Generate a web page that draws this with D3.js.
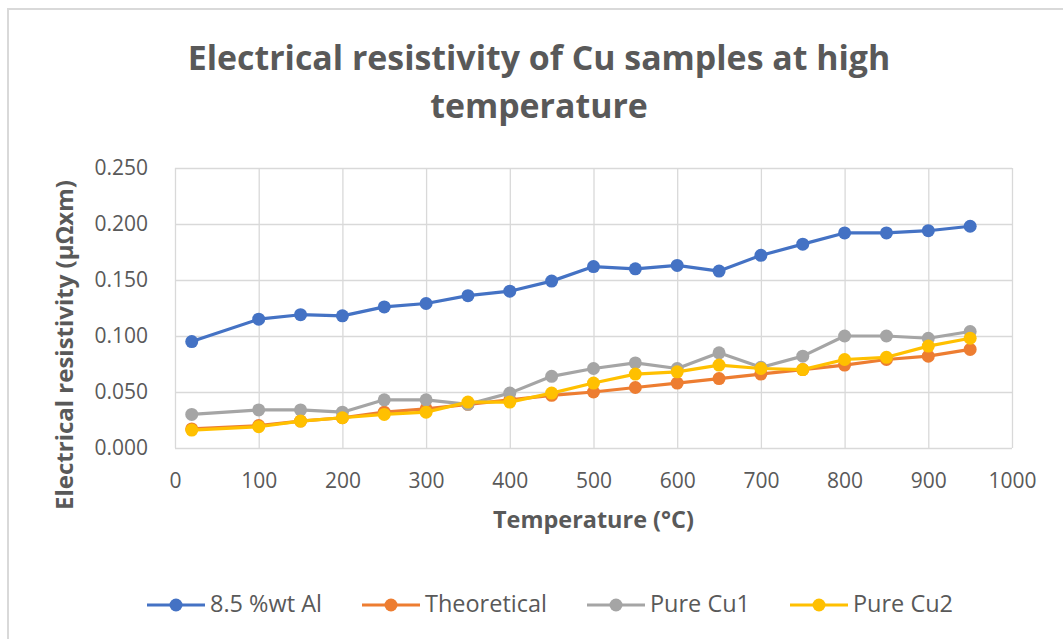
<!DOCTYPE html>
<html>
<head>
<meta charset="utf-8">
<script src="https://cdn.jsdelivr.net/npm/d3@7"></script>
<style>
  body { margin: 0; background: #fff; }
  text { font-family: "Open Sans", sans-serif; fill: #595959; }
</style>
</head>
<body>
<svg class="chart"></svg>
<script>
const W = 1063, H = 639;
const margin = {top: 168, left: 175};
const width = 837, height = 280;

// data
const temps = [20, 100, 150, 200, 250, 300, 350, 400, 450, 500, 550, 600, 650, 700, 750, 800, 850, 900, 950];
const al85 = [0.095, 0.115, 0.119, 0.118, 0.126, 0.129, 0.136, 0.140, 0.149, 0.162, 0.160, 0.163, 0.158, 0.172, 0.182, 0.192, 0.192, 0.194, 0.198];
const theoretical = [0.017, 0.020, 0.024, 0.027, 0.032, 0.035, 0.039, 0.043, 0.047, 0.050, 0.054, 0.058, 0.062, 0.066, 0.070, 0.074, 0.079, 0.082, 0.088];
const pureCu1 = [0.030, 0.034, 0.034, 0.032, 0.043, 0.043, 0.039, 0.049, 0.064, 0.071, 0.076, 0.071, 0.085, 0.072, 0.082, 0.100, 0.100, 0.098, 0.104];
const pureCu2 = [0.016, 0.019, 0.024, 0.027, 0.030, 0.032, 0.041, 0.041, 0.049, 0.058, 0.066, 0.068, 0.074, 0.071, 0.070, 0.079, 0.081, 0.091, 0.098];
const seriesNames = ["8.5 %wt Al", "Theoretical", "Pure Cu1", "Pure Cu2"];
const colors = ["#4472C4", "#ED7D31", "#A5A5A5", "#FFC000"];
const xTicks = [0, 100, 200, 300, 400, 500, 600, 700, 800, 900, 1000];
const yTicks = [0, 0.05, 0.1, 0.15, 0.2, 0.25];

const series = [al85, theoretical, pureCu1, pureCu2].map((vals, i) => ({
  name: seriesNames[i], color: colors[i],
  points: vals.map((v, j) => ({t: temps[j], v: v}))
}));

const svg = d3.select('.chart').attr('width', W).attr('height', H);

// outer chart border (cropped on the right/bottom)
svg.append('rect')
  .attr('x', 8).attr('y', 9).attr('width', W + 20).attr('height', H + 20)
  .attr('fill', 'none').attr('stroke', '#d9d9d9').attr('stroke-width', 2);

// fit a text to a given width
function fit(t, w) {
  const cur = parseFloat(t.attr('font-size'));
  t.attr('font-size', cur * w / t.node().getComputedTextLength());
  return parseFloat(t.attr('font-size'));
}

// title
const t1 = svg.append('text').attr('x', 539).attr('y', 70)
  .attr('text-anchor', 'middle').attr('font-size', 30).attr('font-weight', 'bold')
  .text('Electrical resistivity of Cu samples at high');
const tfs = fit(t1, 703);
svg.append('text').attr('x', 539).attr('y', 118)
  .attr('text-anchor', 'middle').attr('font-size', tfs).attr('font-weight', 'bold')
  .text('temperature');

const chart = svg.append('g')
  .attr('transform', 'translate(' + margin.left + ',' + margin.top + ')');

const x = d3.scaleLinear().domain([0, 1000]).range([0, width]);
const y = d3.scaleLinear().domain([0, 0.25]).range([height, 0]);

const yAxis = chart.append('g')
  .call(d3.axisLeft(y).tickValues(yTicks).tickSize(-width).tickPadding(27).tickFormat(d3.format('.3f')));
const xAxis = chart.append('g')
  .attr('transform', 'translate(0,' + height + ')')
  .call(d3.axisBottom(x).tickValues(xTicks).tickSize(-height).tickPadding(25).tickFormat(d3.format('d')));

[xAxis, yAxis].forEach((a) => {
  a.select('.domain').remove();
  a.selectAll('line').attr('stroke', '#d9d9d9').attr('stroke-width', 1.3);
  a.selectAll('text').attr('font-size', 21).attr('fill', '#595959')
    .style('font-family', '"Open Sans", sans-serif');
});

// axis titles
const xt = chart.append('text').attr('x', width / 2).attr('y', 360)
  .attr('text-anchor', 'middle').attr('font-size', 20).attr('font-weight', 'bold')
  .text('Temperature (°C)');
fit(xt, 201);
const yt = svg.append('text').attr('transform', 'translate(73,345) rotate(-90)')
  .attr('text-anchor', 'middle').attr('font-size', 20).attr('font-weight', 'bold')
  .text('Electrical resistivity (μΩxm)');
fit(yt, 330);

// lines + markers
const line = d3.line().x((d) => x(d.t)).y((d) => y(d.v));
const sg = chart.selectAll('.series').data(series).enter().append('g').attr('class', 'series');
sg.append('path')
  .attr('d', (d) => line(d.points))
  .attr('fill', 'none').attr('stroke', (d) => d.color)
  .attr('stroke-width', 3.2).attr('stroke-linejoin', 'round');
sg.selectAll('circle').data((d) => d.points.map((p) => ({...p, color: d.color})))
  .enter().append('circle')
  .attr('cx', (d) => x(d.t)).attr('cy', (d) => y(d.v))
  .attr('r', 6.5).attr('fill', (d) => d.color);

// legend
const legendX = [147, 362, 587, 790];
const leg = svg.selectAll('.leg').data(series).enter().append('g')
  .attr('class', 'leg')
  .attr('transform', (d, i) => 'translate(' + legendX[i] + ',605)');
leg.append('line').attr('x1', 0).attr('x2', 58)
  .attr('stroke', (d) => d.color).attr('stroke-width', 3.2);
leg.append('circle').attr('cx', 29).attr('r', 6.5).attr('fill', (d) => d.color);
const lt = leg.append('text').attr('x', 63).attr('y', 7)
  .attr('font-size', 19).text((d) => d.name);
const lfs = fit(d3.select(lt.nodes()[1]), 122);
lt.attr('font-size', lfs);
</script>
</body>
</html>
